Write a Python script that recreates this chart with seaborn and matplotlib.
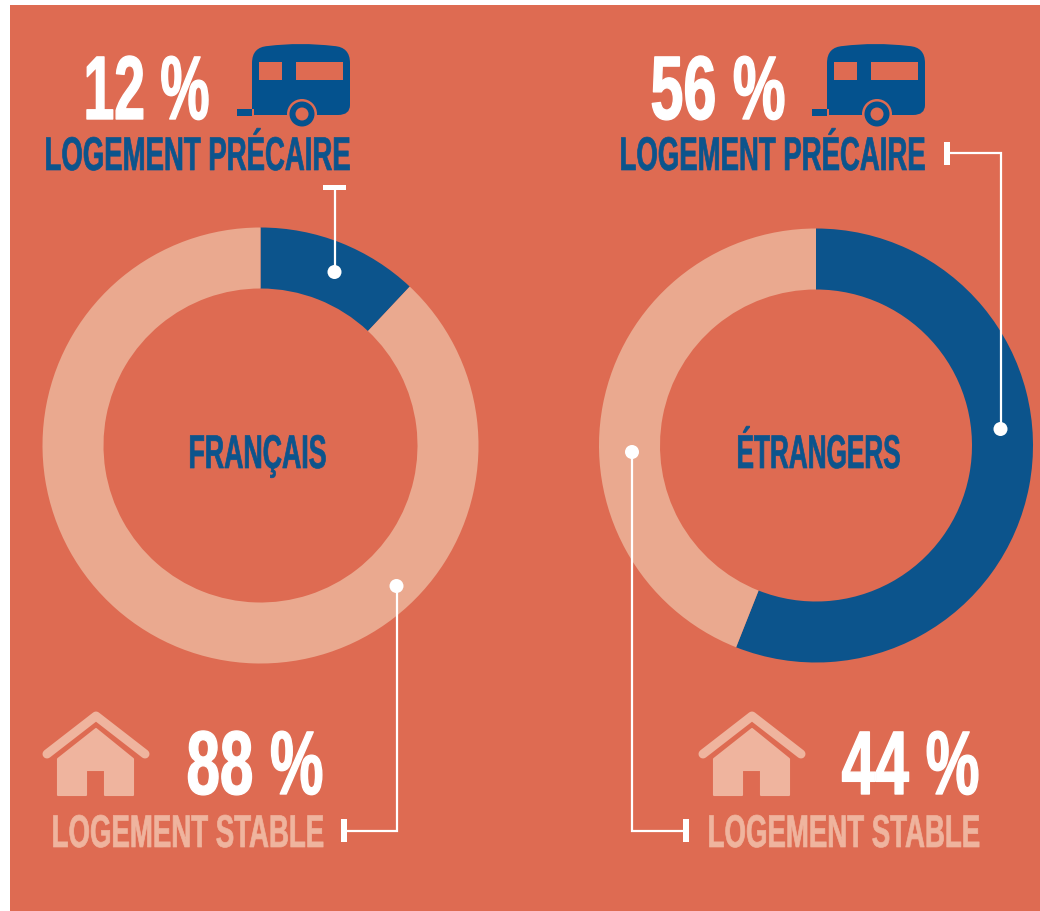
import matplotlib
matplotlib.use("Agg")
import matplotlib.pyplot as plt
import matplotlib.patheffects as pe
from matplotlib.patches import Circle, PathPatch, Polygon, Rectangle
from matplotlib.path import Path
from matplotlib.transforms import Affine2D
import seaborn as sns

# Data
groups = ["FRANÇAIS", "ÉTRANGERS"]
precaire = [12, 56]
stable = [88, 44]
label_precaire = "LOGEMENT PRÉCAIRE"
label_stable = "LOGEMENT STABLE"

BG = "#DE6B52"
BLUE = "#0C548C"
ICON_BLUE = "#04528E"
LIGHT = "#EAA98F"
PALE = "#EFB49E"
WHITE = "#FFFFFF"

sns.set_theme(style="white")
plt.rcParams["font.family"] = ["Liberation Sans Narrow", "Liberation Sans", "DejaVu Sans"]
palette = sns.color_palette([BLUE, LIGHT])


class Tall(pe.AbstractPathEffect):
    # stretches the glyphs up from the baseline, with a thin stroke to keep them heavy
    def __init__(self, y0, sy, color, stroke):
        super().__init__()
        self.y0 = y0
        self.sy = sy
        self.color = color
        self.stroke = stroke

    def draw_path(self, renderer, gc, tpath, affine, rgbFace=None):
        stretch = Affine2D().translate(0, -self.y0).scale(1, self.sy).translate(0, self.y0)
        gc0 = renderer.new_gc()
        gc0.copy_properties(gc)
        gc0.set_foreground(self.color)
        gc0.set_linewidth(self.stroke)
        renderer.draw_path(gc0, tpath, affine + stretch, rgbFace)
        gc0.restore()


def label(ax, text, x0, x1, base, cap, color, stroke=0.5):
    mid = (x0 + x1) / 2
    t = ax.text(mid, base, text, color=color, fontsize=cap, fontweight="bold",
                ha="center", va="baseline", zorder=6)
    width = t.get_window_extent(fig.canvas.get_renderer()).width
    # font size set by the width, height made up by the stretch
    scale = (x1 - x0 - 1) / width
    t.set_fontsize(cap * scale)
    t.set_path_effects([Tall(912 - base, 1 / scale, color, stroke)])
    return t


def caravan(ax, dx):
    verts = [(252, 64), (252, 48), (268, 47), (300, 43), (334, 47), (350, 48), (350, 64),
             (350, 106), (350, 116), (338, 116), (254, 116), (254, 110), (237, 110),
             (237, 117), (254, 117), (252, 117), (252, 64), (252, 64)]
    codes = [Path.MOVETO, Path.CURVE3, Path.CURVE3, Path.CURVE3, Path.CURVE3, Path.CURVE3, Path.CURVE3,
             Path.LINETO, Path.CURVE3, Path.CURVE3, Path.LINETO, Path.LINETO, Path.LINETO,
             Path.LINETO, Path.LINETO, Path.LINETO, Path.LINETO, Path.CLOSEPOLY]
    verts = [(x + dx, y) for x, y in verts]
    ax.add_patch(PathPatch(Path(verts, codes), fc=ICON_BLUE, ec="none", zorder=3))
    ax.add_patch(Rectangle((259 + dx, 63), 23, 18, fc=BG, ec="none", zorder=4))
    ax.add_patch(Rectangle((296 + dx, 63), 47, 18, fc=BG, ec="none", zorder=4))
    ax.add_patch(Circle((302 + dx, 115), 15, fc=BG, ec="none", zorder=4))
    ax.add_patch(Circle((302 + dx, 115), 12.5, fc=ICON_BLUE, ec="none", zorder=5))
    ax.add_patch(Circle((302 + dx, 115), 6.5, fc=BG, ec="none", zorder=5))


def house(ax, dx):
    ax.plot([47 + dx, 96 + dx, 145 + dx], [755, 717, 755], color=PALE, lw=6.5,
            solid_capstyle="round", solid_joinstyle="round", zorder=3)
    ax.add_patch(Polygon([(58 + dx, 760), (96 + dx, 730), (133 + dx, 760), (133 + dx, 796),
                          (105 + dx, 796), (105 + dx, 771), (86 + dx, 771), (86 + dx, 796),
                          (58 + dx, 796)], fc=PALE, ec=PALE, lw=1.5, joinstyle="round", zorder=3))


def leader(ax, xs, ys, dot, cap):
    ax.plot(xs, ys, color=WHITE, lw=1.6, solid_joinstyle="miter", zorder=5)
    ax.add_patch(Circle(dot, 7, fc=WHITE, ec="none", zorder=6))
    ax.add_patch(Rectangle(cap[:2], cap[2], cap[3], fc=WHITE, ec="none", zorder=6))


fig = plt.figure(figsize=(10.4, 9.12), dpi=100, facecolor="white")
ax = fig.add_axes([0, 0, 1, 1])
ax.add_patch(Rectangle((10, 6), 1030, 906, fc=BG, ec="none", zorder=0))

# Donuts
centers = [(260.5, 446.5), (816, 446.5)]
radii = [218, 217]
for i, center in enumerate(centers):
    ax.pie([precaire[i], stable[i]], colors=palette, center=center, radius=radii[i],
           startangle=-90, counterclock=True, frame=True,
           wedgeprops={"width": 61, "edgecolor": "none", "zorder": 2})

ax.set_xlim(0, 1040)
ax.set_ylim(912, 0)
ax.set_aspect("auto")
ax.axis("off")

# Icons
caravan(ax, 0)
caravan(ax, 575)
house(ax, 0)
house(ax, 656)

# Texts
label(ax, f"{precaire[0]} %", 83, 210, 120, 65, WHITE, 1.0)
label(ax, f"{precaire[1]} %", 650, 786, 120, 65, WHITE, 1.0)
label(ax, label_precaire, 44, 351, 171, 34, BLUE)
label(ax, label_precaire, 619, 926, 171, 34, BLUE)
label(ax, groups[0], 188, 327, 469, 34, BLUE)
label(ax, groups[1], 736, 901, 469, 34, BLUE)
label(ax, f"{stable[0]} %", 186, 324, 795, 65, WHITE, 1.0)
label(ax, f"{stable[1]} %", 841, 980, 795, 65, WHITE, 1.0)
label(ax, label_stable, 51, 325, 848, 33, PALE)
label(ax, label_stable, 707, 981, 848, 33, PALE)

# Leader lines
leader(ax, [334.5, 334.5], [188, 273], (334.5, 273), (323, 186, 23, 5))
leader(ax, [396.5, 396.5, 344], [587, 832, 832], (396.5, 587), (341, 820, 5.5, 23))
leader(ax, [947, 1000.5, 1000.5], [154, 154, 430], (1000.5, 430), (944, 143, 6, 23))
leader(ax, [632, 632, 686], [453, 832, 832], (632, 453), (683, 820, 5.5, 23))

fig.savefig("out.png", dpi=100, facecolor="white")
